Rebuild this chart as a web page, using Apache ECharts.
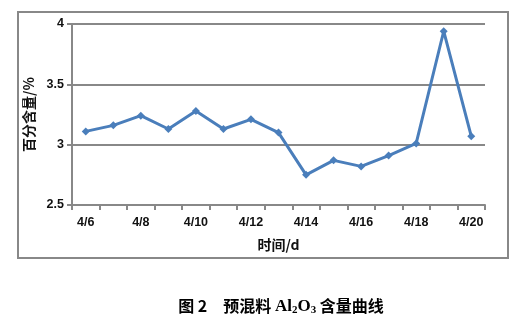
<!DOCTYPE html>
<html><head><meta charset="utf-8">
<script src="https://cdn.jsdelivr.net/npm/echarts@6/dist/echarts.min.js"></script>
<style>html,body{margin:0;padding:0;background:#fff}#c{width:525px;height:320px}</style>
</head><body><div id="c"></div>
<script>
const categories = ['4/6','4/7','4/8','4/9','4/10','4/11','4/12','4/13','4/14','4/15','4/16','4/17','4/18','4/19','4/20'];
const values = [3.11,3.16,3.24,3.13,3.28,3.13,3.21,3.10,2.75,2.87,2.82,2.91,3.01,3.94,3.07];
const yName = '百分含量/%';
const xName = '时间/d';

const chart = echarts.init(document.getElementById('c'), null, {renderer:'canvas'});
const lab = {fontFamily:'Liberation Sans, Arial, sans-serif', fontWeight:'bold', fontSize:12.5, color:'#111'};
chart.setOption({
  animation:false,
  grid:{left:72, right:40, top:24, bottom:115},
  xAxis:{
    type:'category', data:categories, boundaryGap:true,
    name:xName, nameLocation:'middle', nameGap:33,
    nameTextStyle:{fontFamily:'Noto Sans CJK SC', fontWeight:'bold', fontSize:14, color:'#111'},
    axisLine:{lineStyle:{color:'#888', width:2}},
    axisTick:{show:true, interval:0, length:5, lineStyle:{color:'#888', width:2}},
    axisLabel:Object.assign({interval:1, margin:11}, lab),
    splitLine:{show:false}
  },
  yAxis:{
    type:'value', min:2.5, max:4, interval:0.5,
    name:yName, nameLocation:'middle', nameGap:36, nameRotate:90,
    nameTextStyle:{fontFamily:'Noto Sans CJK SC', fontWeight:'bold', fontSize:14, color:'#111'},
    axisLine:{show:true, lineStyle:{color:'#888', width:2}},
    axisTick:{show:true, length:5, lineStyle:{color:'#888', width:2}},
    axisLabel:Object.assign({margin:8}, lab),
    splitLine:{lineStyle:{color:'#888', width:2}}
  },
  series:[{
    type:'line', data:values,
    lineStyle:{color:'#4a7ebb', width:3},
    itemStyle:{color:'#4a7ebb'},
    symbol:'diamond', symbolSize:8
  }],
  graphic:[
    {type:'rect', shape:{x:18, y:12, width:490, height:246}, style:{fill:'none', stroke:'#888', lineWidth:2}, z:-1},
    {type:'text', x:281, y:306, style:{
      text:'{c|图 2}{c|　预混料 }{e|Al}{s|2}{e|O}{s|3}{c| 含量曲线}',
      align:'center', verticalAlign:'middle',
      rich:{
        c:{fontFamily:'Noto Sans CJK SC', fontWeight:'bold', fontSize:16, fill:'#000'},
        e:{fontFamily:'Liberation Serif', fontWeight:'bold', fontSize:17, fill:'#000', padding:[2,0,0,0]},
        s:{fontFamily:'Liberation Serif', fontWeight:'bold', fontSize:11, fill:'#000', padding:[9,0,0,0]}
      }
    }}
  ]
});
</script></body></html>
